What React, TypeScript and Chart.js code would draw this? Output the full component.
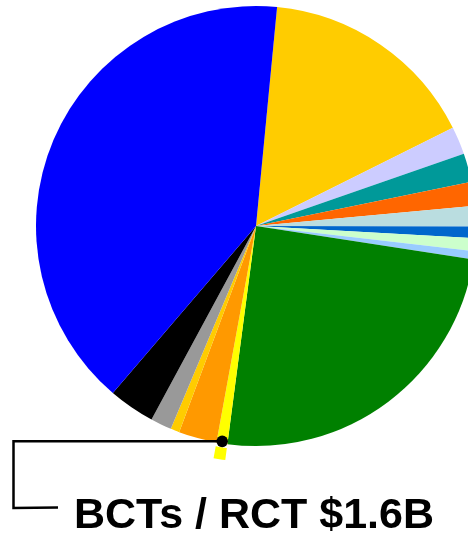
import React, { useEffect, useRef } from "react";
import { Chart, registerables } from "chart.js";

Chart.register(...registerables);

// Values in $B, clockwise starting just right of 12 o'clock
const categories = [
  "Gold", "Lavender", "Teal", "Orange Red", "Powder Blue", "Blue 2", "Mint",
  "Light Blue", "Green", "BCTs / RCT", "Orange", "Gold 2", "Gray", "Black", "Blue",
];
const values = [32.2, 4.1, 4.2, 3.5, 3.0, 1.7, 1.9, 1.2, 49.3, 1.6, 5.6, 1.3, 3.1, 6.8, 80.5];
const colors = [
  "#FFCC00", "#CCCCFF", "#009999", "#FF6600", "#BADDE0", "#0066CC", "#CCFFCC",
  "#99CCFF", "#008000", "#FFFF00", "#FF9900", "#FFCC00", "#999999", "#000000", "#0000FF",
];
const highlightIndex = 9;
const highlightLabel = "BCTs / RCT $1.6B";

export default function App() {
  const ref = useRef<HTMLCanvasElement | null>(null);

  useEffect(() => {
    if (!ref.current) return;
    const outerColors = colors.map((c, i) => (i === highlightIndex ? c : "rgba(0,0,0,0)"));
    const gapColors = colors.map(() => "rgba(0,0,0,0)");

    const callout = {
      id: "callout",
      afterDraw(chart: any) {
        const ctx = chart.ctx;
        const meta = chart.getDatasetMeta(2);
        const arc: any = meta.data[highlightIndex];
        if (!arc) return;
        const mid = (arc.startAngle + arc.endAngle) / 2;
        const r = arc.outerRadius - 2;
        const dx = arc.x + Math.cos(mid) * r;
        const dy = arc.y + Math.sin(mid) * r;
        ctx.save();
        ctx.strokeStyle = "#000";
        ctx.lineWidth = 2.5;
        ctx.beginPath();
        ctx.moveTo(dx, dy);
        ctx.lineTo(13.5, dy);
        ctx.lineTo(13.5, 518);
        ctx.lineTo(58, 517.5);
        ctx.stroke();
        ctx.fillStyle = "#000";
        ctx.beginPath();
        ctx.arc(dx, dy, 5.8, 0, Math.PI * 2);
        ctx.fill();
        ctx.font = "bold 43px 'Liberation Sans', Arial, sans-serif";
        ctx.textAlign = "left";
        ctx.textBaseline = "alphabetic";
        ctx.fillText(highlightLabel, 74, 538);
        ctx.restore();
      },
    };

    const chart = new Chart(ref.current, {
      type: "pie",
      data: {
        labels: categories,
        datasets: [
          { data: values, backgroundColor: outerColors, borderWidth: 0, weight: 12 } as any,
          { data: values, backgroundColor: gapColors, borderWidth: 0, weight: 4 } as any,
          { data: values, backgroundColor: colors, borderWidth: 0, weight: 220 } as any,
        ],
      },
      options: {
        animation: false,
        responsive: false,
        devicePixelRatio: 1,
        events: [],
        rotation: 5.5,
        layout: { padding: { left: 20, right: 8, top: -1, bottom: 71 } },
        plugins: { legend: { display: false }, tooltip: { enabled: false } },
      } as any,
      plugins: [callout],
    });
    return () => chart.destroy();
  }, []);

  return (
    <div style={{ position: "fixed", left: 0, top: 0, width: 468, height: 533, overflow: "hidden", background: "#fff" }}>
      <canvas
        ref={ref}
        width={500}
        height={543}
        style={{ position: "absolute", left: 0, top: -10, width: 500, height: 543 }}
      />
    </div>
  );
}
